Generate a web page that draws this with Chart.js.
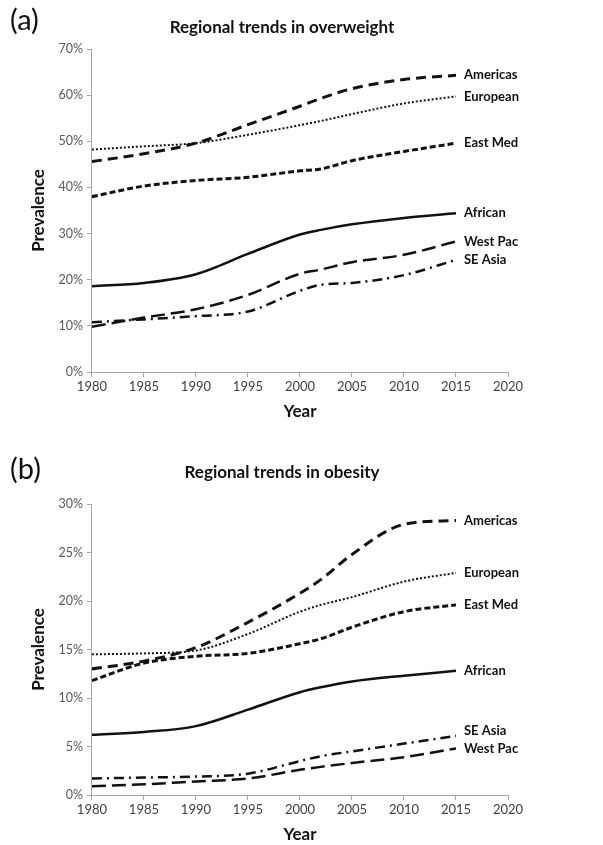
<!DOCTYPE html>
<html>
<head>
<meta charset="utf-8">
<script src="https://cdn.jsdelivr.net/npm/chart.js@4.4.1/dist/chart.umd.min.js"></script>
<style>
  body { margin: 0; background: #fff; }
  #page { position: relative; width: 603px; height: 845px; font-family: Lato, "Open Sans", sans-serif; }
  .panel { position: absolute; left: 0; width: 603px; }
  .letter { position: absolute; left: 10px; font-size: 29px; color: #111; }
  .title { position: absolute; left: 0; width: 564px; text-align: center; font-size: 17px; font-weight: bold; color: #111; }
  canvas { position: absolute; left: 0; top: 0; }
</style>
</head>
<body>
<div id="page">
  <div class="panel" style="top:0;height:422px">
    <canvas id="chartA" width="603" height="422"></canvas>
    <div class="letter" style="top:1px">(a)</div>
    <div class="title" style="top:16px">Regional trends in overweight</div>
  </div>
  <div class="panel" style="top:422px;height:423px">
    <canvas id="chartB" width="603" height="423"></canvas>
    <div class="letter" style="top:28px">(b)</div>
    <div class="title" style="top:39px">Regional trends in obesity</div>
  </div>
</div>
<script>
// years shared by every series
const years = [1980, 1985, 1990, 1995, 2000, 2002, 2005, 2010, 2015];
const regions = ["Americas", "European", "East Med", "African", "West Pac", "SE Asia"];

// (a) overweight prevalence, %
const owAmericas = [45.6, 47.3, 49.6, 53.6, 57.6, 59.3, 61.4, 63.4, 64.3];
const owEuropean = [48.2, 48.9, 49.6, 51.4, 53.5, 54.4, 55.9, 58.2, 59.7];
const owEastMed  = [38.0, 40.3, 41.5, 42.2, 43.6, 44.0, 45.8, 47.8, 49.6];
const owAfrican  = [18.6, 19.3, 21.2, 25.6, 29.8, 30.8, 32.0, 33.4, 34.4];
const owWestPac  = [9.8, 11.8, 13.6, 16.7, 21.3, 22.2, 23.8, 25.4, 28.3];
const owSEAsia   = [10.8, 11.4, 12.1, 13.1, 17.6, 18.9, 19.3, 21.0, 24.3];

// (b) obesity prevalence, %
const obAmericas = [13.0, 13.8, 15.2, 17.8, 20.8, 22.2, 24.8, 27.9, 28.3];
const obEuropean = [14.5, 14.6, 14.9, 16.6, 18.9, 19.6, 20.4, 22.0, 22.9];
const obEastMed  = [11.8, 13.6, 14.3, 14.6, 15.6, 16.1, 17.3, 18.9, 19.6];
const obAfrican  = [6.2, 6.5, 7.1, 8.8, 10.6, 11.1, 11.7, 12.3, 12.8];
const obWestPac  = [0.9, 1.1, 1.4, 1.7, 2.6, 2.9, 3.3, 3.9, 4.8];
const obSEAsia   = [1.7, 1.8, 1.9, 2.2, 3.5, 4.0, 4.5, 5.3, 6.1];

const xTicks = [1980, 1985, 1990, 1995, 2000, 2005, 2010, 2015, 2020];

const lineStyles = {
  "Americas": { width: 3, dash: [10, 6] },
  "European": { width: 2, dash: [2, 2] },
  "East Med": { width: 3, dash: [6, 3] },
  "African":  { width: 2.5, dash: [] },
  "West Pac": { width: 2.5, dash: [14, 6] },
  "SE Asia":  { width: 2.5, dash: [10, 5, 2, 5] },
};

const FONT = "Lato, 'Open Sans', sans-serif";

// names drawn at the end of each line
const endLabels = {
  id: "endLabels",
  afterDatasetsDraw(chart, args, opts) {
    const ctx = chart.ctx;
    ctx.save();
    ctx.font = "bold 13px " + FONT;
    ctx.fillStyle = "#111";
    ctx.textBaseline = "middle";
    chart.data.datasets.forEach((ds, i) => {
      const meta = chart.getDatasetMeta(i);
      const pt = meta.data[meta.data.length - 1];
      const shift = (opts.shift && opts.shift[ds.label]) || 0;
      ctx.fillText(ds.label, pt.x + 8, pt.y + shift);
    });
    ctx.restore();
  },
};

function buildDatasets(seriesList) {
  return seriesList.map((values, i) => {
    const name = regions[i];
    const st = lineStyles[name];
    return {
      label: name,
      data: years.map((y, j) => ({ x: y, y: values[j] })),
      borderColor: "#111",
      borderWidth: st.width,
      borderDash: st.dash,
      borderCapStyle: "butt",
      cubicInterpolationMode: "monotone",
      pointRadius: 0,
      fill: false,
    };
  });
}

function makeChart(canvasId, seriesList, yMax, yStep, padding, shift) {
  const ctx = document.getElementById(canvasId).getContext("2d");
  return new Chart(ctx, {
    type: "line",
    data: { datasets: buildDatasets(seriesList) },
    plugins: [endLabels],
    options: {
      responsive: false,
      animation: false,
      layout: { padding: padding },
      plugins: {
        legend: { display: false },
        tooltip: { enabled: false },
        endLabels: { shift: shift },
      },
      scales: {
        x: {
          type: "linear",
          min: 1980,
          max: 2020,
          afterBuildTicks: (scale) => { scale.ticks = xTicks.map((v) => ({ value: v })); },
          grid: { drawOnChartArea: false, color: "#a6a6a6", tickLength: 5 },
          border: { color: "#a6a6a6" },
          ticks: {
            color: "#404040",
            font: { family: FONT, size: 13 },
            callback: (v) => String(v),
            maxRotation: 0,
            padding: 2,
          },
          title: {
            display: true,
            text: "Year",
            color: "#111",
            font: { family: FONT, size: 17, weight: "bold" },
            padding: { top: 5, bottom: 0 },
          },
        },
        y: {
          min: 0,
          max: yMax,
          ticks: {
            stepSize: yStep,
            color: "#595959",
            font: { family: FONT, size: 12.5 },
            callback: (v) => v + "%",
            padding: 4,
          },
          grid: { drawOnChartArea: false, color: "#a6a6a6", tickLength: 5 },
          border: { color: "#a6a6a6" },
          title: {
            display: true,
            text: "Prevalence",
            color: "#111",
            font: { family: FONT, size: 17, weight: "bold" },
            padding: { top: 0, bottom: 6 },
          },
        },
      },
    },
  });
}

makeChart("chartA",
  [owAmericas, owEuropean, owEastMed, owAfrican, owWestPac, owSEAsia],
  70, 10, { top: 49, right: 95, left: 28, bottom: 0 }, {});

makeChart("chartB",
  [obAmericas, obEuropean, obEastMed, obAfrican, obWestPac, obSEAsia],
  30, 5, { top: 82, right: 95, left: 28, bottom: 0 }, { "SE Asia": -5 });
</script>
</body>
</html>
